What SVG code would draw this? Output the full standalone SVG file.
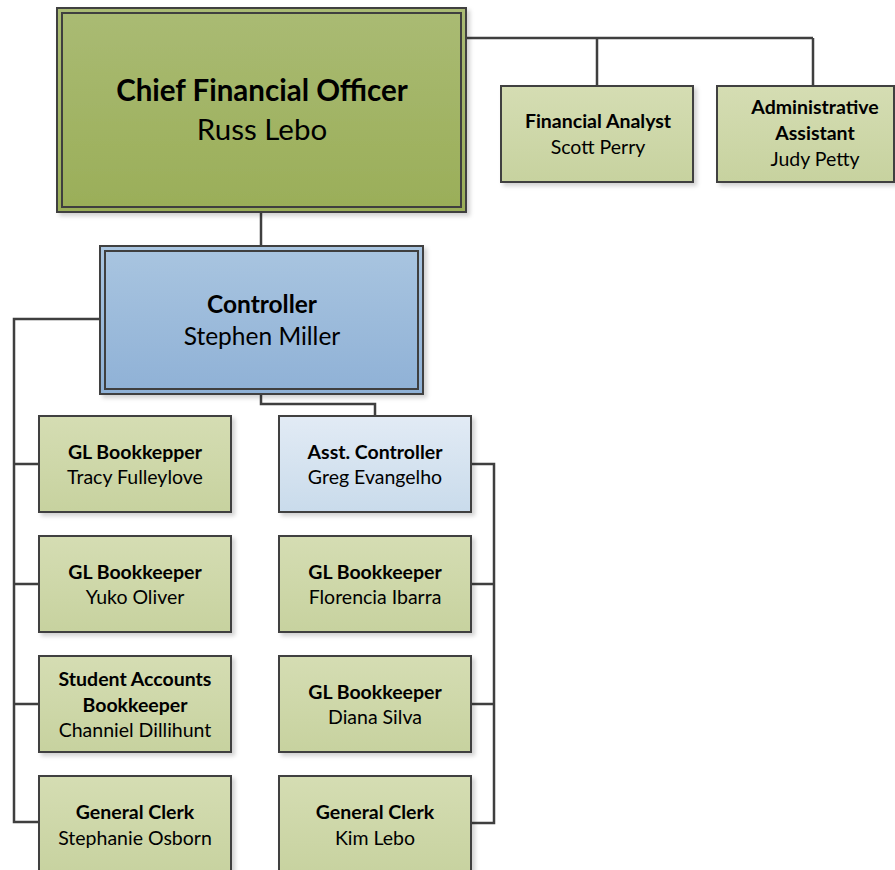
<svg xmlns="http://www.w3.org/2000/svg" width="895" height="870" viewBox="0 0 895 870">
<defs>
<linearGradient id="gCfo" x1="0" y1="0" x2="0" y2="1"><stop offset="0" stop-color="#aabb74"/><stop offset="1" stop-color="#9aae58"/></linearGradient>
<linearGradient id="gCtl" x1="0" y1="0" x2="0" y2="1"><stop offset="0" stop-color="#a9c5e0"/><stop offset="1" stop-color="#8fb1d6"/></linearGradient>
<linearGradient id="gGrn" x1="0" y1="0" x2="0" y2="1"><stop offset="0" stop-color="#d5ddb3"/><stop offset="1" stop-color="#c7d29f"/></linearGradient>
<linearGradient id="gBlu" x1="0" y1="0" x2="0" y2="1"><stop offset="0" stop-color="#e2ebf5"/><stop offset="1" stop-color="#c9dbeb"/></linearGradient>
<filter id="sh" x="-10%" y="-10%" width="130%" height="130%"><feDropShadow dx="3" dy="3" stdDeviation="2" flood-color="#000" flood-opacity="0.18"/></filter>
</defs>
<style>
.box{stroke:#3f3f3f;stroke-width:2;filter:url(#sh)}
.in{fill:none;stroke:#3f3f3f;stroke-width:2}
.c{fill:none;stroke:#3f3f3f;stroke-width:2.5}
text{font-family:Lato,"Liberation Sans",sans-serif;fill:#000;text-anchor:middle}
.t{font-weight:bold;font-size:19.5px}
.n{font-size:19.5px}
.bt{font-weight:bold;font-size:29.5px}
.bn{font-size:29.5px}
.mt{font-weight:bold;font-size:24.5px}
.mn{font-size:24.5px}
</style>
<rect width="895" height="870" fill="#fff"/>
<g id="connectors">
<path class="c" d="M466 38H813M597 38V86M813 38V86"/>
<path class="c" d="M261 212V247"/>
<path class="c" d="M100 319H14V822H39M14 464H39M14 584H39M14 704H39"/>
<path class="c" d="M261 394V404H375V416"/>
<path class="c" d="M471 464H494V823H471M494 584H471M494 704H471"/>
</g>
<g id="cfo">
<rect class="box" x="57" y="8" width="409" height="204" fill="url(#gCfo)"/>
<rect class="in" x="62" y="13" width="399" height="194"/>
<text class="bt" x="262" y="101">Chief Financial Officer</text>
<text class="bn" x="262" y="140">Russ Lebo</text>
</g>
<g id="analyst">
<rect class="box" x="501" y="86" width="192" height="96" fill="url(#gGrn)"/>
<text class="t" x="598" y="128">Financial Analyst</text>
<text class="n" x="598" y="154">Scott Perry</text>
</g>
<g id="admin">
<rect class="box" x="717" y="86" width="177" height="96" fill="url(#gGrn)"/>
<text class="t" x="815" y="114">Administrative</text>
<text class="t" x="815" y="140">Assistant</text>
<text class="n" x="815" y="166">Judy Petty</text>
</g>
<g id="controller">
<rect class="box" x="100" y="246" width="323" height="148" fill="url(#gCtl)"/>
<rect class="in" x="105" y="251" width="313" height="138"/>
<text class="mt" x="262" y="313">Controller</text>
<text class="mn" x="262" y="345">Stephen Miller</text>
</g>
<g id="tracy">
<rect class="box" x="39" y="416" width="192" height="96" fill="url(#gGrn)"/>
<text class="t" x="135" y="459">GL Bookkepper</text>
<text class="n" x="135" y="484">Tracy Fulleylove</text>
</g>
<g id="yuko">
<rect class="box" x="39" y="536" width="192" height="96" fill="url(#gGrn)"/>
<text class="t" x="135" y="579">GL Bookkeeper</text>
<text class="n" x="135" y="604">Yuko Oliver</text>
</g>
<g id="channiel">
<rect class="box" x="39" y="656" width="192" height="96" fill="url(#gGrn)"/>
<text class="t" x="135" y="686">Student Accounts</text>
<text class="t" x="135" y="712">Bookkeeper</text>
<text class="n" x="135" y="737">Channiel Dillihunt</text>
</g>
<g id="stephanie">
<rect class="box" x="39" y="776" width="192" height="100" fill="url(#gGrn)"/>
<text class="t" x="135" y="819">General Clerk</text>
<text class="n" x="135" y="845">Stephanie Osborn</text>
</g>
<g id="greg">
<rect class="box" x="279" y="416" width="192" height="96" fill="url(#gBlu)"/>
<text class="t" x="375" y="459">Asst. Controller</text>
<text class="n" x="375" y="484">Greg Evangelho</text>
</g>
<g id="florencia">
<rect class="box" x="279" y="536" width="192" height="96" fill="url(#gGrn)"/>
<text class="t" x="375" y="579">GL Bookkeeper</text>
<text class="n" x="375" y="604">Florencia Ibarra</text>
</g>
<g id="diana">
<rect class="box" x="279" y="656" width="192" height="96" fill="url(#gGrn)"/>
<text class="t" x="375" y="699">GL Bookkeeper</text>
<text class="n" x="375" y="724">Diana Silva</text>
</g>
<g id="kim">
<rect class="box" x="279" y="776" width="192" height="100" fill="url(#gGrn)"/>
<text class="t" x="375" y="819">General Clerk</text>
<text class="n" x="375" y="845">Kim Lebo</text>
</g>
</svg>
